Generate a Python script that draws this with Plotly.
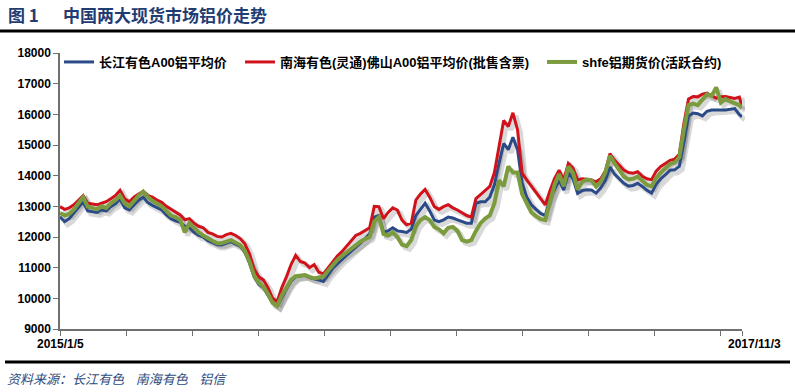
import plotly.graph_objects as go
import pandas as pd

# weekly samples, 2015/1/5 .. 2017/11/3
dates = list(pd.date_range("2015-01-05", periods=148, freq="7D").strftime("%Y-%m-%d")) + ["2017-11-03"]

changjiang = [  # 长江有色A00铝平均价 (blue)
    12660,12500,12600,12780,12950,13150,12850,12820,12800,12880,
    12850,12990,13080,13230,12950,12880,13050,13200,13300,13120,
    13030,12950,12880,12720,12600,12530,12480,12350,12300,12150,
    12050,12000,11880,11820,11750,11740,11800,11850,11770,11700,
    11500,11150,10700,10450,10350,10100,9850,9750,10050,10300,
    10550,10700,10730,10750,10680,10650,10600,10550,10780,10980,
    11120,11270,11400,11530,11650,11800,11950,12100,12650,12700,
    12150,12200,12300,12200,12180,12150,12250,12700,12900,13100,
    12850,12550,12500,12560,12650,12620,12560,12500,12450,12450,
    13100,13150,13150,13300,13700,14400,15050,14850,15250,14850,
    13750,13300,13050,12900,12770,12700,13250,13550,13850,13530,
    14100,13900,13420,13520,13540,13530,13430,13600,13850,14280,
    14050,13900,13750,13660,13680,13750,13650,13520,13430,13720,
    13900,14030,14180,14190,14300,15100,15950,16040,16020,15950,
    16100,16140,16150,16140,16140,16170,16190,15990,15920]

nanhai = [  # 南海有色(灵通)佛山A00铝平均价(批售含票) (red)
    12990,12900,12950,13050,13200,13350,13100,13080,13050,13100,
    13150,13250,13350,13520,13250,13150,13300,13400,13480,13350,
    13300,13200,13130,13000,12900,12800,12720,12560,12600,12450,
    12350,12300,12150,12100,12020,12000,12080,12120,12050,11950,
    11780,11450,10950,10700,10600,10350,10000,9900,10350,10700,
    11100,11400,11200,11150,11000,11100,10850,10800,11000,11220,
    11380,11520,11700,11900,12050,12120,12200,12300,13000,12990,
    12600,12800,12950,12880,12550,12400,12450,13200,13400,13550,
    13300,12990,12900,12990,13050,12950,12880,12800,12700,12650,
    13250,13380,13500,13650,14100,14950,15800,15600,16050,15500,
    14080,13860,13650,13450,13250,13050,13500,13900,14180,13860,
    14400,14250,13860,13900,13880,13860,13800,13900,14150,14720,
    14500,14350,14180,14100,14080,14130,13980,13900,13870,14150,
    14300,14400,14500,14540,14700,15700,16500,16580,16570,16660,
    16690,16600,16530,16570,16580,16550,16520,16560,16250]

shfe = [  # shfe铝期货价(活跃合约) (green)
    12780,12700,12750,12900,13100,13300,12990,12950,12900,13000,
    12950,13100,13200,13350,13100,13000,13200,13350,13480,13300,
    13180,13100,13000,12850,12700,12650,12550,12150,12450,12300,
    12150,12050,11950,11880,11800,11800,11850,11900,11820,11740,
    11550,11200,10750,10500,10380,10150,9850,9750,10100,10380,
    10600,10720,10750,10760,10700,10650,10680,10710,10900,11100,
    11250,11380,11500,11620,11720,11850,11930,12000,12500,12650,
    12100,12050,12150,12000,11750,11700,11900,12350,12550,12650,
    12550,12330,12250,12120,12300,12330,12200,11900,11850,11900,
    12200,12450,12600,12700,13100,13850,13650,14300,14100,14100,
    13400,13100,12800,12680,12580,12550,13150,13700,14050,13650,
    14300,14100,13550,13800,13870,13850,13650,13800,14100,14650,
    14400,14200,13970,13880,13900,13970,13820,13700,13650,13930,
    14100,14250,14390,14430,14600,15500,16300,16350,16300,16480,
    16650,16600,16880,16380,16500,16420,16360,16300,16200]

series_names = ["长江有色A00铝平均价", "南海有色(灵通)佛山A00铝平均价(批售含票)", "shfe铝期货价(活跃合约)"]
series_vals = [changjiang, nanhai, shfe]
series_colors = ["#2A4A88", "#D0121B", "#7B9B3E"]
series_widths = [3, 3, 4]

title_num = "图 1"
title_text = "中国两大现货市场铝价走势"
source_text = "资料来源：长江有色    南海有色    铝信"
y_ticks = list(range(9000, 18001, 1000))
x_tick_dates = list(pd.date_range("2015-01-05", periods=11, freq="100D").strftime("%Y-%m-%d")) + ["2017-11-03"]
x_labels = ["2015/1/5", "2017/11/3"]

# ---- layout geometry (pixels) ----
W, H = 795, 392
L, T = 60, 53
PW, PH = 682, 276   # main plot area
SH = 3              # shadow offset
R = W - L - PW - SH
B = H - T - PH - SH
TW, TH = PW + SH, PH + SH

def px_x(p):
    return (p - L) / TW

def px_y(p):
    return 1 - (p - T) / TH

fig = go.Figure()

# shadows (subplot 1)
for vals in series_vals:
    fig.add_trace(go.Scatter(x=dates, y=vals, mode="lines", xaxis="x", yaxis="y",
                             line=dict(color="rgba(0,0,0,0.15)", width=5),
                             showlegend=False, hoverinfo="skip"))

# main series (subplot 2)
for i, (nm, vals, col, w) in enumerate(zip(series_names, series_vals, series_colors, series_widths)):
    fig.add_trace(go.Scatter(x=dates, y=vals, mode="lines", name=nm, xaxis="x2", yaxis="y2",
                             line=dict(color=col, width=w),
                             legend=["legend", "legend2", "legend3"][i]))

xr = ["2015-01-05", "2017-11-03"]
yr = [9000, 18000]
font_tick = dict(family="Liberation Sans, Arial, sans-serif", size=12, color="#000000", weight="bold")
leg_font = dict(family="Liberation Sans, Noto Sans CJK SC, sans-serif", size=13, color="#000000", weight="bold")

def leg(xpix):
    return dict(x=xpix / W, y=1 - 62 / H, xref="container", yref="container",
                xanchor="left", yanchor="middle", orientation="h",
                bgcolor="rgba(0,0,0,0)", borderwidth=0, font=leg_font,
                itemwidth=30, tracegroupgap=0)

fig.update_layout(
    width=W, height=H,
    margin=dict(l=L, r=R, t=T, b=B, pad=0, autoexpand=False),
    paper_bgcolor="white", plot_bgcolor="rgba(0,0,0,0)",
    xaxis=dict(domain=[SH / TW, 1], range=xr, visible=False, type="date"),
    yaxis=dict(domain=[0, PH / TH], range=yr, visible=False),
    xaxis2=dict(domain=[0, PW / TW], range=xr, type="date", anchor="y2",
                showline=True, linecolor="#707070", linewidth=1.5,
                ticks="outside", ticklen=5, tickcolor="#707070", tickwidth=1,
                tickvals=x_tick_dates, showticklabels=False, showgrid=False, zeroline=False),
    yaxis2=dict(domain=[SH / TH, 1], range=yr, anchor="x2",
                showline=True, linecolor="#707070", linewidth=1.5,
                ticks="outside", ticklen=5, tickcolor="#707070", tickwidth=1,
                tickvals=y_ticks, tickformat="d", tickfont=font_tick,
                showgrid=False, zeroline=False),
    legend=leg(59), legend2=leg(240), legend3=leg(542),
    showlegend=True,
)

# x-axis end labels
fig.add_annotation(x=dates[0], xref="x2", y=0, yref="y2 domain", text=x_labels[0],
                   showarrow=False, yanchor="top", yshift=-6, font=font_tick)
fig.add_annotation(x=dates[-1], xref="x2", y=0, yref="y2 domain", text=x_labels[1],
                   showarrow=False, yanchor="top", yshift=-6, xshift=12, font=font_tick)

# title
title_font = dict(family="Noto Sans CJK SC, sans-serif", size=17, color="#1F3C73", weight="bold")
fig.add_annotation(x=px_x(6), y=px_y(14), xref="paper", yref="paper", text=title_num,
                   showarrow=False, xanchor="left", yanchor="middle", font=title_font)
fig.add_annotation(x=px_x(61), y=px_y(14), xref="paper", yref="paper", text=title_text,
                   showarrow=False, xanchor="left", yanchor="middle", font=title_font)

# source
fig.add_annotation(x=px_x(5), y=px_y(378), xref="paper", yref="paper", text=source_text,
                   showarrow=False, xanchor="left", yanchor="middle",
                   font=dict(family="Noto Sans CJK SC, sans-serif", size=13, color="#2E4C7E", style="italic"))

# rules
fig.add_shape(type="line", xref="paper", yref="paper", x0=px_x(0), x1=px_x(795),
              y0=px_y(31), y1=px_y(31), line=dict(color="#000000", width=3))
fig.add_shape(type="line", xref="paper", yref="paper", x0=px_x(5), x1=px_x(790),
              y0=px_y(362), y1=px_y(362), line=dict(color="#000000", width=3))

fig.write_html("out.html", config={"displayModeBar": False},
               post_script="document.body.style.margin='0';document.body.style.overflow='hidden';")
